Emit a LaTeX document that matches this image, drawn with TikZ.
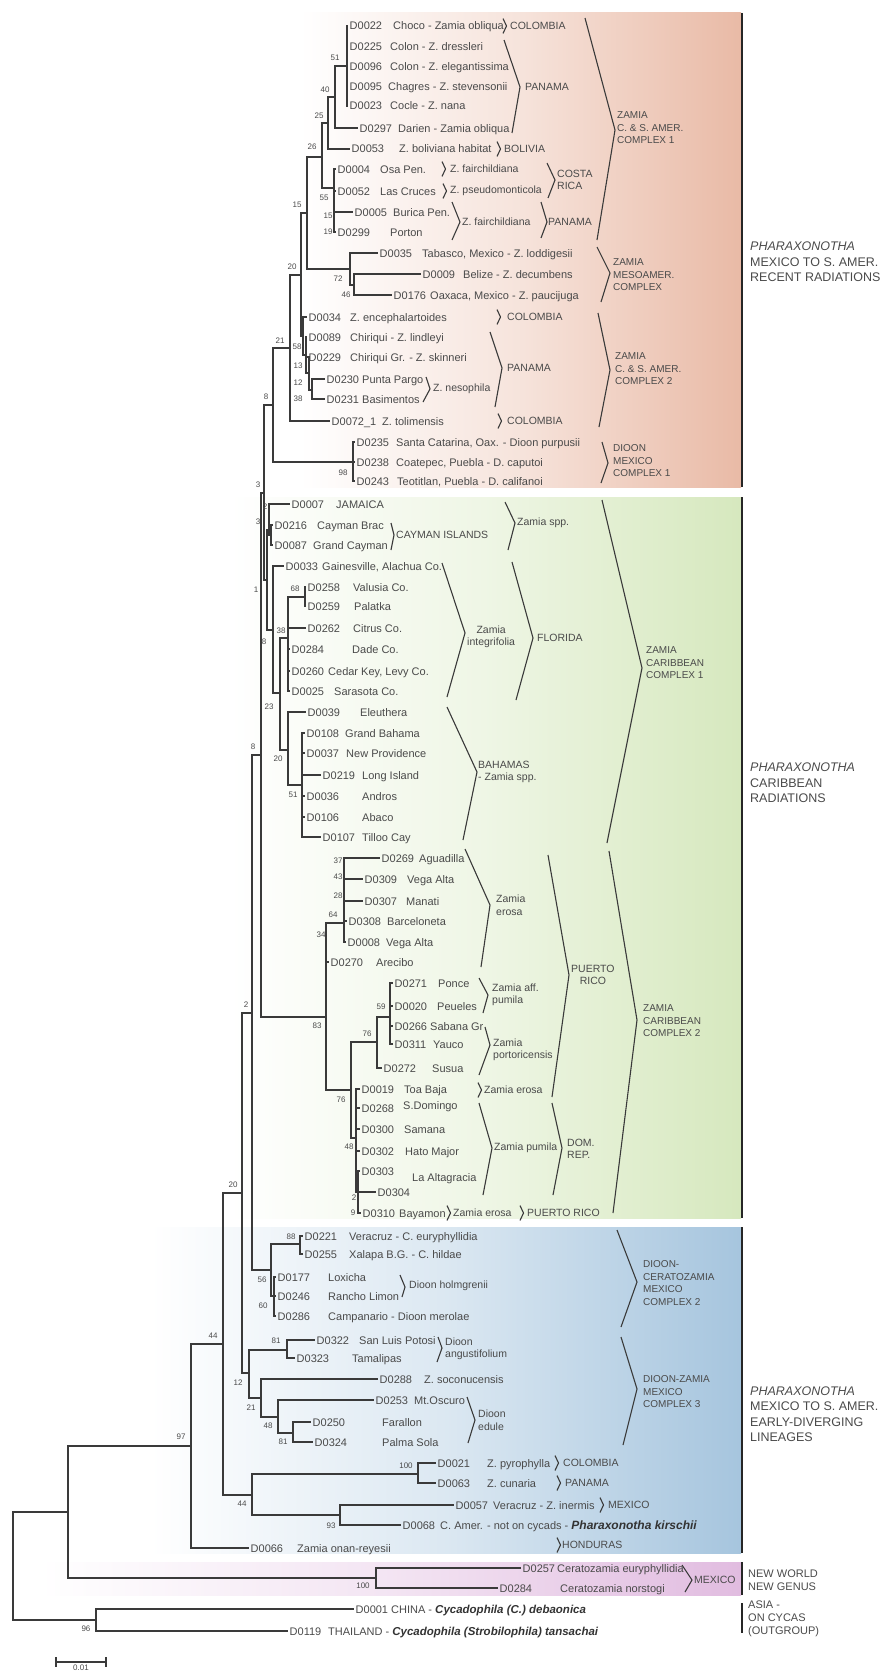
\documentclass[tikz,border=0pt]{standalone}
\usepackage{fontspec}
\setmainfont{Liberation Sans}
\usepackage{tikz}
\usetikzlibrary{positioning}

\definecolor{txtgray}{HTML}{4A4A4A}
\definecolor{linegray}{HTML}{3A3A3A}
\definecolor{redband}{RGB}{233,186,166}
\definecolor{greenband}{RGB}{214,232,190}
\definecolor{blueband}{RGB}{166,197,222}
\definecolor{pinkband}{RGB}{225,188,224}

\tikzset{
	branch/.style={draw=linegray, line width=1.4pt},
	brk/.style={draw=linegray, line width=1.1pt},
	tipid/.style={anchor=west, inner sep=1.5pt, text=txtgray, font=\fontsize{11}{13}\selectfont, text height=8pt, text depth=0pt},
	tipdesc/.style={anchor=west, inner sep=0pt, text=txtgray, font=\fontsize{11}{13}\selectfont, text height=8pt, text depth=0pt},
	grp/.style={anchor=west, inner sep=0pt, text=txtgray, align=left, font=\fontsize{10.5}{12.5}\selectfont},
	cplx/.style={anchor=west, inner sep=0pt, text=txtgray, align=left, font=\fontsize{10}{12.5}\selectfont},
	clade/.style={anchor=west, inner sep=0pt, text=txtgray, align=left, font=\fontsize{12.5}{15.5}\selectfont},
	bs/.style={inner sep=0pt, text=txtgray, font=\fontsize{8}{9}\selectfont},
	bar/.style={draw=black!85, line width=2.8pt},
	pics/chev/.style={code={\draw[brk] (0,-#1) -- (3.5,0) -- (0,#1);}},
}

\begin{document}
\begin{tikzpicture}[x=1pt, y=-1pt]

	\useasboundingbox (0,0) rectangle (883,1675);

	% coloured bands behind the tree, fading in from the left
	\shade[left color=white, right color=redband, middle color=redband!40] (300,13) rectangle (741,487);
	\shade[left color=white, right color=greenband, middle color=greenband!40] (230,497) rectangle (741,1218);
	\shade[left color=white, right color=blueband, middle color=blueband!40] (150,1227) rectangle (741,1553);
	\shade[left color=white, right color=pinkband, middle color=pinkband!40] (40,1562) rectangle (741,1595);

	\draw[bar] (742,13) -- (742,487);
	\draw[bar] (742,497) -- (742,1218);
	\draw[bar] (742,1227) -- (742,1553);
	\draw[bar] (742,1562) -- (742,1595);
	\draw[bar] (742,1603) -- (742,1633);

	%%%%%%%%%%%%%%%%%%%%%%%%%%%%%%%%%%%%%%%%%%%%%%%%%%%%%%%%%%%%%%
	% RECENT RADIATIONS (red band)
	% internal nodes sit on their vertical bar: (x of bar, y of node)
	\coordinate (n51) at (347,66);
	\coordinate (n40) at (335,97);
	\coordinate (n25) at (328,123);
	\coordinate (n26) at (322,157);
	\coordinate (nCR) at (334,188);
	\coordinate (n15) at (307,213);
	\coordinate (n72) at (350,269);
	\coordinate (n46) at (354,285);
	\coordinate (n20) at (301,275);
	\coordinate (n58) at (303,336);
	\coordinate (n13) at (306,355);
	\coordinate (n12) at (309,373);
	\coordinate (nNes) at (312,390);
	\coordinate (n21) at (290,348);
	\coordinate (n8a) at (273,405);
	\coordinate (nDio) at (353,462);
	\coordinate (n3) at (264,493);

	% tips: the node sits where its branch ends
	\node[tipid] (D0022) at (348,26) {D0022};
	\node[tipid] (D0225) at (348,47) {D0225};
	\node[tipid] (D0096) at (348,67) {D0096};
	\node[tipid] (D0095) at (348,87) {D0095};
	\node[tipid] (D0023) at (348,106) {D0023};
	\node[tipid] (D0297) at (358,128) {D0297};
	\node[tipid] (D0053) at (350,149) {D0053};
	\node[tipid] (D0004) at (336,169) {D0004};
	\node[tipid] (D0052) at (336,191) {D0052};
	\node[tipid] (D0005) at (353,212) {D0005};
	\node[tipid] (D0299) at (336,232) {D0299};
	\node[tipid] (D0035) at (378,253) {D0035};
	\node[tipid] (D0009) at (421,274) {D0009};
	\node[tipid] (D0176) at (392,295) {D0176};
	\node[tipid] (D0034) at (307,317) {D0034};
	\node[tipid] (D0089) at (307,337) {D0089};
	\node[tipid] (D0229) at (307,357) {D0229};
	\node[tipid] (D0230) at (325,379) {D0230};
	\node[tipid] (D0231) at (325,399) {D0231};
	\node[tipid] (D0072x1) at (330,421) {D0072\_1};
	\node[tipid] (D0235) at (355,442) {D0235};
	\node[tipid] (D0238) at (355,462) {D0238};
	\node[tipid] (D0243) at (355,481) {D0243};

	\node[tipdesc] (D0022d) at (393,26) {Choco - Zamia obliqua};
	\node[tipdesc] (D0225d) at (390,47) {Colon - Z. dressleri};
	\node[tipdesc] (D0096d) at (390,67) {Colon - Z. elegantissima};
	\node[tipdesc] (D0095d) at (388,87) {Chagres - Z. stevensonii};
	\node[tipdesc] (D0023d) at (390,106) {Cocle - Z. nana};
	\node[tipdesc] (D0297d) at (398,128) {Darien - Zamia obliqua};
	\node[tipdesc] (D0053d) at (399,149) {Z. boliviana habitat};
	\node[tipdesc] (D0004d) at (380,169) {Osa Pen.};
	\node[tipdesc] (D0052d) at (380,191) {Las Cruces};
	\node[tipdesc] (D0005d) at (393,212) {Burica Pen.};
	\node[tipdesc] (D0299d) at (390,232) {Porton};
	\node[tipdesc] (D0035d) at (422,253) {Tabasco, Mexico - Z. loddigesii};
	\node[tipdesc] (D0009d) at (463,274) {Belize - Z. decumbens};
	\node[tipdesc] (D0176d) at (430,295) {Oaxaca, Mexico - Z. paucijuga};
	\node[tipdesc] (D0034d) at (350,317) {Z. encephalartoides};
	\node[tipdesc] (D0089d) at (350,337) {Chiriqui - Z. lindleyi};
	\node[tipdesc] (D0229d) at (350,357) {Chiriqui Gr. - Z. skinneri};
	\node[tipdesc] (D0230d) at (362,379) {Punta Pargo};
	\node[tipdesc] (D0231d) at (362,399) {Basimentos};
	\node[tipdesc] (D0072x1d) at (382,421) {Z. tolimensis};
	\node[tipdesc] (D0235d) at (396,442) {Santa Catarina, Oax. - Dioon purpusii};
	\node[tipdesc] (D0238d) at (396,462) {Coatepec, Puebla - D. caputoi};
	\node[tipdesc] (D0243d) at (397,481) {Teotitlan, Puebla - D. califanoi};

	\draw[branch] (n51) |- (D0022) (n51) |- (D0225) (n51) |- (D0096) (n51) |- (D0095) (n51) |- (D0023);
	\draw[branch] (n40) |- (n51) (n40) |- (D0297);
	\draw[branch] (n25) |- (n40) (n25) |- (D0053);
	\draw[branch] (n26) |- (n25) (n26) |- (nCR);
	\draw[branch] (nCR) |- (D0004) (nCR) |- (D0052) (nCR) |- (D0005) (nCR) |- (D0299);
	\draw[branch] (n15) |- (n26) (n15) |- (n72);
	\draw[branch] (n72) |- (D0035) (n72) |- (n46);
	\draw[branch] (n46) |- (D0009) (n46) |- (D0176);
	\draw[branch] (n20) |- (n15) (n20) |- (n58);
	\draw[branch] (n58) |- (D0034) (n58) |- (n13);
	\draw[branch] (n13) |- (D0089) (n13) |- (n12);
	\draw[branch] (n12) |- (D0229) (n12) |- (nNes);
	\draw[branch] (nNes) |- (D0230) (nNes) |- (D0231);
	\draw[branch] (n21) |- (n20) (n21) |- (D0072x1);
	\draw[branch] (n8a) |- (n21) (n8a) |- (nDio);
	\draw[branch] (nDio) |- (D0235) (nDio) |- (D0238) (nDio) |- (D0243);

	% bootstrap values
	\node[bs] (b51) at (335,58) {51};
	\node[bs] (b40) at (325,90) {40};
	\node[bs] (b25) at (319,116) {25};
	\node[bs] (b26) at (312,147) {26};
	\node[bs] (b55) at (324,198) {55};
	\node[bs] (b15a) at (328,216) {15};
	\node[bs] (b19) at (328,232) {19};
	\node[bs] (b15) at (297,205) {15};
	\node[bs] (b72) at (338,279) {72};
	\node[bs] (b46) at (346,295) {46};
	\node[bs] (b20) at (292,267) {20};
	\node[bs] (b58) at (297,347) {58};
	\node[bs] (b13) at (298,366) {13};
	\node[bs] (b12) at (298,383) {12};
	\node[bs] (b38) at (298,399) {38};
	\node[bs] (b21) at (280,341) {21};
	\node[bs] (b8a) at (266,397) {8};
	\node[bs] (b98) at (343,473) {98};
	\node[bs] (b3) at (258,485) {3};

	% locality brackets
	\pic at (503,26) {chev=7.5};
	\node[grp] (colombia1) at (510,26) {COLOMBIA};
	\draw[brk] (504,40) -- (520,87) -- (512,133);
	\node[grp] (panama1) at (525,87) {PANAMA};
	\pic at (497,149) {chev=7.5};
	\node[grp] (bolivia) at (504,149) {BOLIVIA};
	\pic at (442,169) {chev=7.5};
	\node[grp] (fairch1) at (450,169) {Z. fairchildiana};
	\pic at (443,191) {chev=7.5};
	\node[grp] (pseudom) at (450,191) {Z. pseudomonticola};
	\draw[brk] (547,163) -- (555,180) -- (548,198);
	\node[grp] (costarica) at (557,180) {COSTA\\RICA};
	\draw[brk] (452,202) -- (460,222) -- (452,240);
	\node[grp] (fairch2) at (462,222) {Z. fairchildiana};
	\draw[brk] (541,202) -- (547,222) -- (541,238);
	\node[grp] (panama2) at (548,222) {PANAMA};
	\pic at (497,317) {chev=7.5};
	\node[grp] (colombia2) at (507,317) {COLOMBIA};
	\draw[brk] (426,377) -- (430,389) -- (423,402);
	\node[grp] (nesoph) at (433,389) {Z. nesophila};
	\draw[brk] (490,332) -- (502,368) -- (495,407);
	\node[grp] (panama3) at (507,368) {PANAMA};
	\pic at (498,421) {chev=7.5};
	\node[grp] (colombia3) at (507,421) {COLOMBIA};

	% complexes
	\draw[brk] (585,18) -- (615,130) -- (597,240);
	\node[cplx] (cpxA) at (617,128) {ZAMIA\\C. \& S. AMER.\\COMPLEX 1};
	\draw[brk] (597,247) -- (610,273) -- (601,302);
	\node[cplx] (cpxB) at (613,275) {ZAMIA\\MESOAMER.\\COMPLEX};
	\draw[brk] (598,313) -- (610,370) -- (599,427);
	\node[cplx] (cpxC) at (615,369) {ZAMIA\\C. \& S. AMER.\\COMPLEX 2};
	\draw[brk] (602,442) -- (608,463) -- (601,483);
	\node[cplx] (cpxD) at (613,461) {DIOON\\MEXICO\\COMPLEX 1};

	\node[clade] (grpRecent) at (750,262) {\textit{PHARAXONOTHA}\\MEXICO TO S. AMER.\\RECENT RADIATIONS};

	%%%%%%%%%%%%%%%%%%%%%%%%%%%%%%%%%%%%%%%%%%%%%%%%%%%%%%%%%%%%%%
	% CARIBBEAN RADIATIONS (green band)
	\coordinate (n8b) at (261,755);
	\coordinate (nC1) at (267,580);
	\coordinate (nJC) at (269,530);
	\coordinate (nCay) at (271,535);
	\coordinate (nFB) at (273,630);
	\coordinate (n23) at (280,693);
	\coordinate (nFL) at (288,638);
	\coordinate (n68) at (305,597);
	\coordinate (nBa) at (288,750);
	\coordinate (n51b) at (302,785);

	\node[tipid] (D0007) at (290,504) {D0007};
	\node[tipid] (D0216) at (273,525) {D0216};
	\node[tipid] (D0087) at (273,545) {D0087};
	\node[tipid] (D0033) at (284,566) {D0033};
	\node[tipid] (D0258) at (306,587) {D0258};
	\node[tipid] (D0259) at (306,606) {D0259};
	\node[tipid] (D0262) at (306,628) {D0262};
	\node[tipid] (D0284fl) at (290,649) {D0284};
	\node[tipid] (D0260) at (290,671) {D0260};
	\node[tipid] (D0025) at (290,691) {D0025};
	\node[tipid] (D0039) at (306,712) {D0039};
	\node[tipid] (D0108) at (305,733) {D0108};
	\node[tipid] (D0037) at (305,753) {D0037};
	\node[tipid] (D0219) at (321,775) {D0219};
	\node[tipid] (D0036) at (305,796) {D0036};
	\node[tipid] (D0106) at (305,817) {D0106};
	\node[tipid] (D0107) at (321,837) {D0107};

	\node[tipdesc] (D0007d) at (336,504) {JAMAICA};
	\node[tipdesc] (D0216d) at (317,525) {Cayman Brac};
	\node[tipdesc] (D0087d) at (313,545) {Grand Cayman};
	\node[tipdesc] (D0033d) at (322,566) {Gainesville, Alachua Co.};
	\node[tipdesc] (D0258d) at (353,587) {Valusia Co.};
	\node[tipdesc] (D0259d) at (354,606) {Palatka};
	\node[tipdesc] (D0262d) at (353,628) {Citrus Co.};
	\node[tipdesc] (D0284fld) at (352,649) {Dade Co.};
	\node[tipdesc] (D0260d) at (328,671) {Cedar Key, Levy Co.};
	\node[tipdesc] (D0025d) at (334,691) {Sarasota Co.};
	\node[tipdesc] (D0039d) at (360,712) {Eleuthera};
	\node[tipdesc] (D0108d) at (345,733) {Grand Bahama};
	\node[tipdesc] (D0037d) at (346,753) {New Providence};
	\node[tipdesc] (D0219d) at (362,775) {Long Island};
	\node[tipdesc] (D0036d) at (362,796) {Andros};
	\node[tipdesc] (D0106d) at (362,817) {Abaco};
	\node[tipdesc] (D0107d) at (362,837) {Tilloo Cay};

	\draw[branch] (n3) |- (n8a) (n3) |- (nC1);
	\draw[branch] (nC1) |- (nJC) (nC1) |- (nFB);
	\draw[branch] (nJC) |- (D0007) (nJC) |- (nCay);
	\draw[branch] (nCay) |- (D0216) (nCay) |- (D0087);
	\draw[branch] (nFB) |- (D0033) (nFB) |- (n23);
	\draw[branch] (n23) |- (nFL) (n23) |- (nBa);
	\draw[branch] (nFL) |- (n68) (nFL) |- (D0262) (nFL) |- (D0284fl) (nFL) |- (D0260) (nFL) |- (D0025);
	\draw[branch] (n68) |- (D0258) (n68) |- (D0259);
	\draw[branch] (nBa) |- (D0039) (nBa) |- (n51b);
	\draw[branch] (n51b) |- (D0108) (n51b) |- (D0037) (n51b) |- (D0219) (n51b) |- (D0036) (n51b) |- (D0106) (n51b) |- (D0107);

	\node[bs] (b2) at (265,507) {2};
	\node[bs] (b3b) at (258,522) {3};
	\node[bs] (b1) at (256,590) {1};
	\node[bs] (b8b) at (264,642) {8};
	\node[bs] (b68) at (295,589) {68};
	\node[bs] (b38b) at (281,631) {38};
	\node[bs] (b23) at (269,707) {23};
	\node[bs] (b20b) at (278,759) {20};
	\node[bs] (b51b) at (293,795) {51};
	\node[bs] (b8c) at (253,747) {8};

	\draw[brk] (391,523) -- (394,535) -- (391,550);
	\node[grp] (cayman) at (396,535) {CAYMAN ISLANDS};
	\draw[brk] (505,502) -- (515,523) -- (508,550);
	\node[grp] (zspp1) at (517,523) {Zamia spp.};
	\draw[brk] (442,563) -- (465,633) -- (447,697);
	\node[grp, align=center] (integ) at (467,637) {Zamia\\integrifolia};
	\draw[brk] (512,562) -- (533,638) -- (516,700);
	\node[grp] (florida) at (537,638) {FLORIDA};
	\draw[brk] (447,707) -- (477,772) -- (463,840);
	\node[grp] (bahamas) at (478,772) {BAHAMAS\\- Zamia spp.};

	% Puerto Rico and Dominican Republic
	\coordinate (n2) at (252,1013);
	\coordinate (n83) at (326,1017);
	\coordinate (n64) at (344,923);
	\coordinate (n76b) at (351,1090);
	\coordinate (n76a) at (377,1042);
	\coordinate (n59) at (390,1017);
	\coordinate (n48) at (356,1138);
	\coordinate (n2b) at (358,1192);

	\node[tipid] (D0269) at (380,858) {D0269};
	\node[tipid] (D0309) at (363,879) {D0309};
	\node[tipid] (D0307) at (363,901) {D0307};
	\node[tipid] (D0308) at (347,921) {D0308};
	\node[tipid] (D0008) at (346,942) {D0008};
	\node[tipid] (D0270) at (329,962) {D0270};
	\node[tipid] (D0271) at (393,983) {D0271};
	\node[tipid] (D0020) at (393,1006) {D0020};
	\node[tipid] (D0266) at (393,1026) {D0266};
	\node[tipid] (D0311) at (393,1044) {D0311};
	\node[tipid] (D0272) at (382,1068) {D0272};
	\node[tipid] (D0019) at (360,1089) {D0019};
	\node[tipid] (D0268) at (360,1108) {D0268};
	\node[tipid] (D0300) at (360,1129) {D0300};
	\node[tipid] (D0302) at (360,1151) {D0302};
	\node[tipid] (D0303) at (360,1171) {D0303};
	\node[tipid] (D0304) at (376,1192) {D0304};
	\node[tipid] (D0310) at (361,1213) {D0310};

	\node[tipdesc] (D0269d) at (419,858) {Aguadilla};
	\node[tipdesc] (D0309d) at (407,879) {Vega Alta};
	\node[tipdesc] (D0307d) at (406,901) {Manati};
	\node[tipdesc] (D0308d) at (387,921) {Barceloneta};
	\node[tipdesc] (D0008d) at (386,942) {Vega Alta};
	\node[tipdesc] (D0270d) at (376,962) {Arecibo};
	\node[tipdesc] (D0271d) at (438,983) {Ponce};
	\node[tipdesc] (D0020d) at (437,1006) {Peueles};
	\node[tipdesc] (D0266d) at (430,1026) {Sabana Gr};
	\node[tipdesc] (D0311d) at (433,1044) {Yauco};
	\node[tipdesc] (D0272d) at (432,1068) {Susua};
	\node[tipdesc] (D0019d) at (404,1089) {Toa Baja};
	\node[tipdesc] (D0268d) at (403,1105) {S.Domingo};
	\node[tipdesc] (D0300d) at (404,1129) {Samana};
	\node[tipdesc] (D0302d) at (405,1151) {Hato Major};
	\node[tipdesc] (D0303d) at (412,1177) {La Altagracia};
	\node[tipdesc] (D0310d) at (399,1213) {Bayamon};

	\draw[branch] (n8b) |- (n3) (n8b) |- (n83);
	\draw[branch] (n83) |- (n64) (n83) |- (D0270) (n83) |- (n76b);
	\draw[branch] (n64) |- (D0269) (n64) |- (D0309) (n64) |- (D0307) (n64) |- (D0308) (n64) |- (D0008);
	\draw[branch] (n76b) |- (n76a) (n76b) |- (n48);
	\draw[branch] (n76a) |- (n59) (n76a) |- (D0272);
	\draw[branch] (n59) |- (D0271) (n59) |- (D0020) (n59) |- (D0266) (n59) |- (D0311);
	\draw[branch] (n48) |- (D0019) (n48) |- (D0268) (n48) |- (D0300) (n48) |- (D0302) (n48) |- (n2b);
	\draw[branch] (n2b) |- (D0303) (n2b) |- (D0304) (n2b) |- (D0310);

	\node[bs] (b37) at (338,861) {37};
	\node[bs] (b43) at (338,877) {43};
	\node[bs] (b28) at (338,896) {28};
	\node[bs] (b64) at (333,915) {64};
	\node[bs] (b34) at (321,935) {34};
	\node[bs] (b83) at (317,1026) {83};
	\node[bs] (b59) at (381,1007) {59};
	\node[bs] (b76a) at (367,1034) {76};
	\node[bs] (b76b) at (341,1100) {76};
	\node[bs] (b48) at (349,1147) {48};
	\node[bs] (b2b) at (354,1198) {2};
	\node[bs] (b9) at (353,1213) {9};
	\node[bs] (b2c) at (246,1005) {2};

	\draw[brk] (465,849) -- (490,905) -- (481,967);
	\node[grp] (erosa1) at (496,905) {Zamia\\erosa};
	\draw[brk] (479,978) -- (488,995) -- (483,1013);
	\node[grp] (affpum) at (492,995) {Zamia aff.\\pumila};
	\draw[brk] (485,1027) -- (490,1045) -- (479,1075);
	\node[grp] (portor) at (493,1050) {Zamia\\portoricensis};
	\pic at (478,1090) {chev=7.5};
	\node[grp] (erosa2) at (484,1090) {Zamia erosa};
	\draw[brk] (479,1103) -- (492,1148) -- (483,1195);
	\node[grp] (pumila) at (494,1148) {Zamia pumila};
	\draw[brk] (552,1103) -- (562,1148) -- (553,1195);
	\node[grp] (domrep) at (567,1149) {DOM.\\REP.};
	\pic at (447,1213) {chev=7.5};
	\node[grp] (erosa3) at (453,1213) {Zamia erosa};
	\pic at (520,1213) {chev=7.5};
	\node[grp] (prico2) at (527,1213) {PUERTO RICO};
	\draw[brk] (548,855) -- (569,975) -- (552,1097);
	\node[grp, align=center] (prico1) at (571,975) {PUERTO\\RICO};

	\draw[brk] (602,500) -- (642,668) -- (607,843);
	\node[cplx] (cpxE) at (646,663) {ZAMIA\\CARIBBEAN\\COMPLEX 1};
	\draw[brk] (609,851) -- (637,1020) -- (613,1213);
	\node[cplx] (cpxF) at (643,1021) {ZAMIA\\CARIBBEAN\\COMPLEX 2};

	\node[clade] (grpCarib) at (750,783) {\textit{PHARAXONOTHA}\\CARIBBEAN\\RADIATIONS};

	%%%%%%%%%%%%%%%%%%%%%%%%%%%%%%%%%%%%%%%%%%%%%%%%%%%%%%%%%%%%%%
	% EARLY-DIVERGING LINEAGES (blue band)
	\coordinate (n56) at (271,1270);
	\coordinate (n88) at (300,1244);
	\coordinate (n60) at (274,1296);
	\coordinate (n20b) at (242,1193);
	\coordinate (n12b) at (249,1373);
	\coordinate (n81a) at (287,1350);
	\coordinate (n21b) at (261,1398);
	\coordinate (n48b) at (278,1417);
	\coordinate (n81b) at (293,1433);
	\coordinate (n44a) at (223,1344);
	\coordinate (n44b) at (252,1495);
	\coordinate (n100a) at (418,1474);
	\coordinate (n93) at (340,1515);
	\coordinate (n97) at (191,1446);

	\node[tipid] (D0221) at (303,1236) {D0221};
	\node[tipid] (D0255) at (303,1254) {D0255};
	\node[tipid] (D0177) at (276,1277) {D0177};
	\node[tipid] (D0246) at (276,1296) {D0246};
	\node[tipid] (D0286) at (276,1316) {D0286};
	\node[tipid] (D0322) at (315,1340) {D0322};
	\node[tipid] (D0323) at (295,1358) {D0323};
	\node[tipid] (D0288) at (378,1379) {D0288};
	\node[tipid] (D0253) at (374,1400) {D0253};
	\node[tipid] (D0250) at (311,1422) {D0250};
	\node[tipid] (D0324) at (313,1442) {D0324};
	\node[tipid] (D0021) at (436,1463) {D0021};
	\node[tipid] (D0063) at (436,1483) {D0063};
	\node[tipid] (D0057) at (454,1505) {D0057};
	\node[tipid] (D0068) at (401,1525) {D0068};
	\node[tipid] (D0066) at (249,1548) {D0066};

	\node[tipdesc] (D0221d) at (349,1236) {Veracruz - C. euryphyllidia};
	\node[tipdesc] (D0255d) at (349,1254) {Xalapa B.G. - C. hildae};
	\node[tipdesc] (D0177d) at (328,1277) {Loxicha};
	\node[tipdesc] (D0246d) at (328,1296) {Rancho Limon};
	\node[tipdesc] (D0286d) at (328,1316) {Campanario - Dioon merolae};
	\node[tipdesc] (D0322d) at (359,1340) {San Luis Potosi};
	\node[tipdesc] (D0323d) at (352,1358) {Tamalipas};
	\node[tipdesc] (D0288d) at (424,1379) {Z. soconucensis};
	\node[tipdesc] (D0253d) at (414,1400) {Mt.Oscuro};
	\node[tipdesc] (D0250d) at (382,1422) {Farallon};
	\node[tipdesc] (D0324d) at (382,1442) {Palma Sola};
	\node[tipdesc] (D0021d) at (487,1463) {Z. pyrophylla};
	\node[tipdesc] (D0063d) at (487,1483) {Z. cunaria};
	\node[tipdesc] (D0057d) at (493,1505) {Veracruz - Z. inermis};
	\node[tipdesc] (D0068d) at (440,1525) {C. Amer. - not on cycads - {\fontsize{12}{13}\selectfont\color{black!80}\textbf{\textit{Pharaxonotha kirschii}}}};
	\node[tipdesc] (D0066d) at (297,1548) {Zamia onan-reyesii};

	\draw[branch] (n2) |- (n8b) (n2) |- (n56);
	\draw[branch] (n56) |- (n88) (n56) |- (n60);
	\draw[branch] (n88) |- (D0221) (n88) |- (D0255);
	\draw[branch] (n60) |- (D0177) (n60) |- (D0246) (n60) |- (D0286);
	\draw[branch] (n20b) |- (n2) (n20b) |- (n12b);
	\draw[branch] (n12b) |- (n81a) (n12b) |- (n21b);
	\draw[branch] (n81a) |- (D0322) (n81a) |- (D0323);
	\draw[branch] (n21b) |- (D0288) (n21b) |- (n48b);
	\draw[branch] (n48b) |- (D0253) (n48b) |- (n81b);
	\draw[branch] (n81b) |- (D0250) (n81b) |- (D0324);
	\draw[branch] (n44a) |- (n20b) (n44a) |- (n44b);
	\draw[branch] (n44b) |- (n100a) (n44b) |- (n93);
	\draw[branch] (n100a) |- (D0021) (n100a) |- (D0063);
	\draw[branch] (n93) |- (D0057) (n93) |- (D0068);
	\draw[branch] (n97) |- (n44a) (n97) |- (D0066);

	\node[bs] (b88) at (291,1237) {88};
	\node[bs] (b56) at (262,1280) {56};
	\node[bs] (b60) at (263,1306) {60};
	\node[bs] (b20c) at (233,1185) {20};
	\node[bs] (b44a) at (213,1336) {44};
	\node[bs] (b81a) at (276,1341) {81};
	\node[bs] (b12b) at (238,1383) {12};
	\node[bs] (b21b) at (251,1408) {21};
	\node[bs] (b48b) at (268,1426) {48};
	\node[bs] (b81b) at (283,1442) {81};
	\node[bs] (b100a) at (406,1466) {100};
	\node[bs] (b44b) at (242,1504) {44};
	\node[bs] (b93) at (331,1526) {93};
	\node[bs] (b97) at (181,1437) {97};

	\draw[brk] (400,1275) -- (405,1287) -- (402,1297);
	\node[grp] (holmg) at (409,1286) {Dioon holmgrenii};
	\draw[brk] (438,1337) -- (442,1348) -- (437,1362);
	\node[grp] (angust) at (445,1349) {Dioon\\angustifolium};
	\draw[brk] (467,1397) -- (475,1420) -- (468,1443);
	\node[grp] (edule) at (478,1420) {Dioon\\edule};
	\pic at (555,1463) {chev=7.5};
	\node[grp] (colombia4) at (563,1463) {COLOMBIA};
	\pic at (557,1483) {chev=7.5};
	\node[grp] (panama4) at (565,1483) {PANAMA};
	\pic at (600,1505) {chev=7.5};
	\node[grp] (mexico1) at (608,1505) {MEXICO};
	\pic at (557,1545) {chev=7.5};
	\node[grp] (honduras) at (562,1545) {HONDURAS};

	\draw[brk] (617,1230) -- (637,1282) -- (621,1327);
	\node[cplx] (cpxG) at (643,1283) {DIOON-\\CERATOZAMIA\\MEXICO\\COMPLEX 2};
	\draw[brk] (621,1337) -- (637,1389) -- (623,1445);
	\node[cplx] (cpxH) at (643,1392) {DIOON-ZAMIA\\MEXICO\\COMPLEX 3};

	\node[clade] (grpEarly) at (750,1414) {\textit{PHARAXONOTHA}\\MEXICO TO S. AMER.\\EARLY-DIVERGING\\LINEAGES};

	%%%%%%%%%%%%%%%%%%%%%%%%%%%%%%%%%%%%%%%%%%%%%%%%%%%%%%%%%%%%%%
	% NEW GENUS (pink band) and outgroup
	\coordinate (nNG) at (68,1512);
	\coordinate (n100b) at (376,1578);
	\coordinate (nRoot) at (13,1566);
	\coordinate (n96) at (96,1620);

	\node[tipid] (D0257) at (521,1568) {D0257};
	\node[tipid] (D0284cz) at (498,1588) {D0284};
	\node[tipid] (D0001) at (354,1609) {D0001};
	\node[tipid] (D0119) at (288,1631) {D0119};

	\node[tipdesc] (D0257d) at (557,1568) {Ceratozamia euryphyllidia};
	\node[tipdesc] (D0284czd) at (560,1588) {Ceratozamia norstogi};
	\node[tipdesc] (D0001d) at (391,1609) {CHINA - {\fontsize{11.5}{13}\selectfont\color{black!80}\textbf{\textit{Cycadophila (C.) debaonica}}}};
	\node[tipdesc] (D0119d) at (328,1631) {THAILAND - {\fontsize{11.5}{13}\selectfont\color{black!80}\textbf{\textit{Cycadophila (Strobilophila) tansachai}}}};

	\draw[branch] (nNG) |- (n97) (nNG) |- (n100b);
	\draw[branch] (n100b) |- (D0257) (n100b) |- (D0284cz);
	\draw[branch] (nRoot) |- (nNG) (nRoot) |- (n96);
	\draw[branch] (n96) |- (D0001) (n96) |- (D0119);

	\node[bs] (b100b) at (363,1586) {100};
	\node[bs] (b96) at (86,1629) {96};

	\draw[brk] (682,1565) -- (692,1580) -- (685,1592);
	\node[grp] (mexico2) at (694,1580) {MEXICO};
	\node[grp, font=\fontsize{11}{13}\selectfont] (grpNew) at (748,1580) {NEW WORLD\\NEW GENUS};
	\node[grp, font=\fontsize{11}{13}\selectfont] (grpAsia) at (748,1619) {ASIA -\\ON CYCAS\\(OUTGROUP)};

	% scale bar
	\coordinate (sbL) at (56,1662);
	\coordinate (sbR) at (106,1662);
	\coordinate (sbM) at (81,1664);
	\draw[branch, line width=1.3pt] (sbL) -- (sbR);
	\draw[branch, line width=1.3pt] (56,1657) -- (56,1667) (106,1657) -- (106,1667);
	\node[bs, below=1pt of sbM] (sbLbl) {0.01};

\end{tikzpicture}
\end{document}
